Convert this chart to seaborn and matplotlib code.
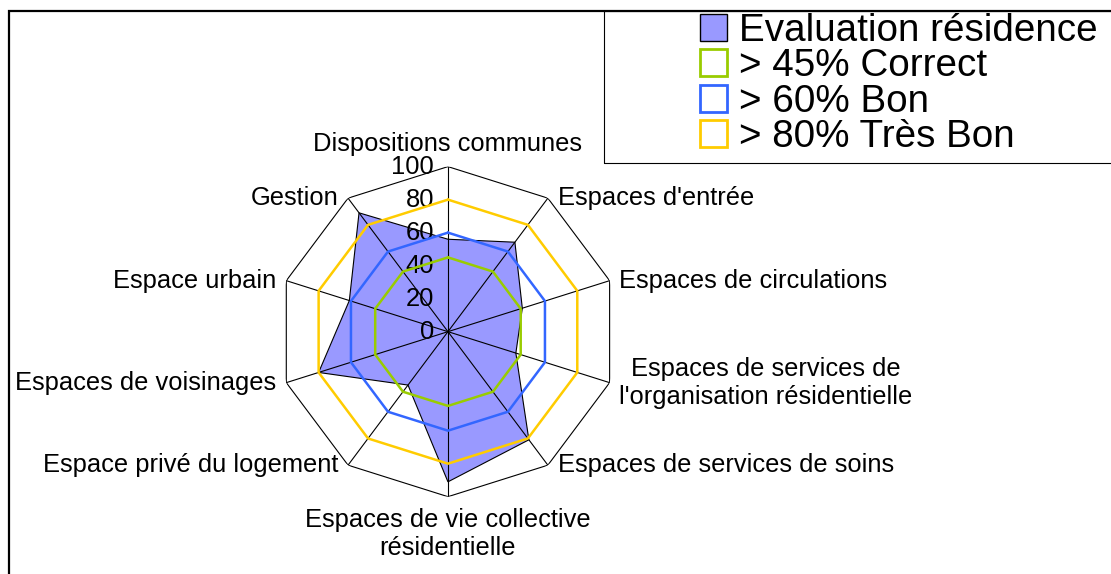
# Radar chart: evaluation of a residence against quality thresholds
import numpy as np
import pandas as pd
import matplotlib
matplotlib.use('Agg')
from matplotlib import pyplot as plt
from matplotlib.patches import Rectangle, Patch
import seaborn as sns

# Data
categories = ['Dispositions communes', "Espaces d'entrée", 'Espaces de circulations',
              "Espaces de services de\nl'organisation résidentielle",
              'Espaces de services de soins',
              'Espaces de vie collective\nrésidentielle', 'Espace privé du logement',
              'Espaces de voisinages', 'Espace urbain', 'Gestion']
evaluation = [56, 67, 46, 42, 81, 91, 40, 80, 61, 89]
seuils = [45, 60, 80]
seuil_labels = ['> 45% Correct', '> 60% Bon', '> 80% Très Bon']
serie_label = 'Evaluation résidence'
radial_ticks = [0, 20, 40, 60, 80, 100]

fill_color = '#9999FF'
seuil_colors = ['#99CC00', '#3366FF', '#FFCC00']

sns.set_style('white')
plt.rcParams['font.family'] = ['Liberation Sans', 'DejaVu Sans']
plt.rcParams['text.color'] = 'black'

n = len(categories)
theta = np.linspace(0, 2 * np.pi, n, endpoint=False)
theta_closed = np.append(theta, 2 * np.pi)

fig = plt.figure(figsize=(11.11, 5.74), dpi=100)
ax = fig.add_axes([0.2502, 0.1347, 0.306, 0.575], projection='polar')
ax.set_theta_zero_location('N')
ax.set_theta_direction(-1)

# evaluation polygon
ax.fill(theta_closed, evaluation + evaluation[:1], facecolor=fill_color,
        edgecolor='black', lw=0.8, zorder=2)

# decagon frame and spokes
ax.plot(theta_closed, [radial_ticks[-1]] * (n + 1), color='black', lw=0.8, zorder=3)
for t in theta:
    ax.plot([t, t], [0, radial_ticks[-1]], color='black', lw=0.8, zorder=3)

# threshold rings
df = pd.DataFrame({
    'theta': np.tile(theta_closed, len(seuils)),
    'r': np.repeat(seuils, n + 1),
    'seuil': np.repeat(seuil_labels, n + 1),
})
sns.lineplot(data=df, x='theta', y='r', hue='seuil', palette=seuil_colors,
             sort=False, legend=False, lw=1.8, ax=ax, zorder=4)

ax.set_ylim(0, radial_ticks[-1])
ax.set_aspect('auto')
ax.grid(False)
ax.spines['polar'].set_visible(False)
ax.set_xticks([])
ax.set_yticks([])
ax.set_xlabel('')
ax.set_ylabel('')
ax.patch.set_alpha(0)

# radial scale labels along the top spoke
for r in radial_ticks:
    ax.annotate(str(r), xy=(0, r), xytext=(-10, 0), textcoords='offset points',
                ha='right', va='center', fontsize=18.4, annotation_clip=False)

# category labels
for t, lab in zip(theta, categories):
    s, c = np.sin(t), np.cos(t)
    if abs(s) < 0.01:
        ha = 'center'
        va = 'bottom' if c > 0 else 'top'
        off = (0, 8 if c > 0 else -8)
    else:
        ha = 'left' if s > 0 else 'right'
        va = 'center'
        off = (7 if s > 0 else -7, 0)
    ax.annotate(lab, xy=(t, radial_ticks[-1]), xytext=off, textcoords='offset points',
                ha=ha, va=va, ma='center', fontsize=18.4, annotation_clip=False)

# outer frame and legend box
fig.patches.append(Rectangle((0.0081, -0.5), 1.5, 0.5 + 0.981, transform=fig.transFigure,
                             fill=False, edgecolor='black', lw=1.6, zorder=10))
fig.patches.append(Rectangle((0.5437, 0.716), 0.6, 0.981 - 0.716, transform=fig.transFigure,
                             fill=False, edgecolor='black', lw=0.8, zorder=10))

handles = [Patch(facecolor=fill_color, edgecolor='black', lw=1.0, label=serie_label)]
for col, lab in zip(seuil_colors, seuil_labels):
    handles.append(Patch(facecolor='white', edgecolor=col, lw=2.0, label=lab))
fig.legend(handles=handles, loc='upper left', bbox_to_anchor=(0.630, 0.977),
           frameon=False, fontsize=27.8, handlelength=0.7, handleheight=0.7,
           handletextpad=0.3, labelspacing=-0.02, borderpad=0, borderaxespad=0)

fig.savefig('out.png', dpi=100)
